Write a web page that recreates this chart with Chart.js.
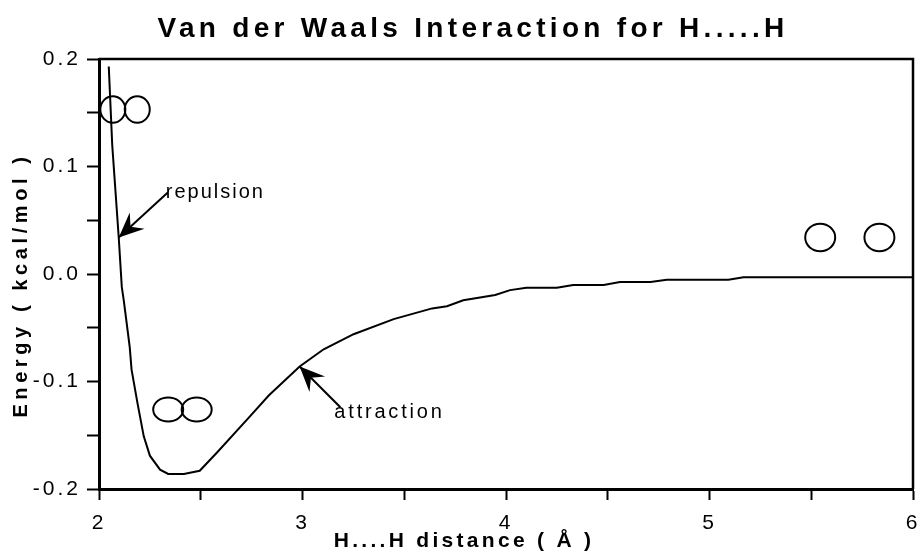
<!DOCTYPE html>
<html>
<head>
<meta charset="utf-8">
<script src="https://cdn.jsdelivr.net/npm/chart.js@4.4.0/dist/chart.umd.min.js"></script>
<style>
  html, body { margin: 0; padding: 0; background: #fff; }
  #box { width: 918px; height: 553px; }
</style>
</head>
<body>
<div id="box"><canvas id="vdwChart"></canvas></div>
<script>
// H...H distance (Å) and interaction energy (kcal/mol)
const distance = [2.048, 2.065, 2.097, 2.112, 2.122, 2.151, 2.160, 2.190, 2.220, 2.250, 2.300, 2.340,
                  2.417, 2.495, 2.580, 2.744, 2.834, 2.986, 3.104, 3.251, 3.448, 3.637, 3.710, 3.790,
                  3.947, 4.020, 4.100, 4.250, 4.330, 4.480, 4.560, 4.710, 4.790, 5.093, 5.167, 6.000];
const energy   = [0.193, 0.120, 0.034, -0.012, -0.025, -0.068, -0.089, -0.121, -0.151, -0.169, -0.182, -0.186,
                  -0.186, -0.183, -0.166, -0.132, -0.113, -0.086, -0.070, -0.056, -0.042, -0.032, -0.030, -0.0245,
                  -0.0195, -0.015, -0.0127, -0.0127, -0.0102, -0.0102, -0.0074, -0.0074, -0.0053, -0.0053, -0.0031, -0.0031];

// atom pairs drawn as circles (centre positions in data units)
const atomPairX = [[2.068, 2.188], [2.34, 2.48], [5.544, 5.835]];
const atomPairY = [0.153, -0.126, 0.034];

// arrow labels: tail and head in data units
const arrowLabels = ['repulsion', 'attraction'];
const arrowFrom = [[2.338, 0.0758], [3.186, -0.124]];
const arrowTo   = [[2.097, 0.034], [2.986, -0.086]];

const chartTitle = 'Van der Waals Interaction for H.....H';
const xTitle = 'H....H distance ( Å )';
const yTitle = 'Energy ( kcal/mol )';

const FONT = "'Liberation Sans', Arial, sans-serif";

// tick labels only on whole tenths / whole numbers, minor ticks stay blank
function tenths(v) {
    return Math.abs(Math.round(v * 10) - v * 10) < 1e-6 ? v.toFixed(1) : '';
}
function wholes(v) {
    return Math.abs(Math.round(v) - v) < 1e-6 ? String(Math.round(v)) : '';
}

function drawArrowHead(ctx, x1, y1, x2, y2) {
    const ang = Math.atan2(y2 - y1, x2 - x1);
    const len = 25, wid = 11, notch = 16;
    ctx.save();
    ctx.translate(x2, y2);
    ctx.rotate(ang);
    ctx.beginPath();
    ctx.moveTo(0, 0);
    ctx.lineTo(-len, -wid);
    ctx.lineTo(-notch, 0);
    ctx.lineTo(-len, wid);
    ctx.closePath();
    ctx.fill();
    ctx.restore();
}

const decorations = {
    id: 'decorations',
    beforeDraw(chart) {
        // the lettering is widely tracked
        chart.ctx.letterSpacing = '3px';
    },
    afterDraw(chart) {
        const { ctx, chartArea: a, scales: { x, y } } = chart;
        ctx.save();
        ctx.strokeStyle = '#000';
        ctx.fillStyle = '#000';

        // top and right frame
        ctx.lineWidth = 2.5;
        ctx.beginPath();
        ctx.moveTo(a.left, a.top);
        ctx.lineTo(a.right, a.top);
        ctx.lineTo(a.right, a.bottom);
        ctx.stroke();

        // atoms
        const sizes = [[12.5, 13.3], [15, 12], [15, 13.7]];
        ctx.lineWidth = 2;
        atomPairX.forEach((pair, i) => {
            pair.forEach(ax => {
                ctx.beginPath();
                ctx.ellipse(x.getPixelForValue(ax), y.getPixelForValue(atomPairY[i]),
                            sizes[i][0], sizes[i][1], 0, 0, Math.PI * 2);
                ctx.stroke();
            });
        });

        // arrows with their labels
        ctx.font = '20px ' + FONT;
        ctx.textBaseline = 'alphabetic';
        ctx.textAlign = 'left';
        arrowLabels.forEach((txt, i) => {
            const x1 = x.getPixelForValue(arrowFrom[i][0]), y1 = y.getPixelForValue(arrowFrom[i][1]);
            const x2 = x.getPixelForValue(arrowTo[i][0]),   y2 = y.getPixelForValue(arrowTo[i][1]);
            ctx.lineWidth = 2;
            ctx.beginPath();
            ctx.moveTo(x1, y1);
            ctx.lineTo(x2, y2);
            ctx.stroke();
            drawArrowHead(ctx, x1, y1, x2, y2);
            if (i === 0) {
                ctx.letterSpacing = '2px';
                ctx.fillText(txt, x1 - 2, y1 + 5);
            } else {
                ctx.letterSpacing = '2.8px';
                ctx.fillText(txt, x1 - 6, y1 + 11);
            }
        });

        // chart title
        ctx.textAlign = 'center';
        ctx.textBaseline = 'middle';
        ctx.font = 'bold 28px ' + FONT;
        ctx.letterSpacing = '4.3px';
        ctx.fillText(chartTitle, 473, 29);

        // x axis title
        ctx.font = 'bold 21px ' + FONT;
        ctx.letterSpacing = '3.3px';
        ctx.fillText(xTitle, 464, 541);

        // y axis title
        ctx.save();
        ctx.translate(21, 287);
        ctx.rotate(-Math.PI / 2);
        ctx.font = 'bold 20px ' + FONT;
        ctx.letterSpacing = '4.6px';
        ctx.fillText(yTitle, 2, 0);
        ctx.restore();

        ctx.restore();
        ctx.letterSpacing = '0px';
    }
};

new Chart(document.getElementById('vdwChart'), {
    type: 'scatter',
    data: {
        datasets: [{
            data: distance.map((d, i) => ({ x: d, y: energy[i] })),
            showLine: true,
            borderColor: '#000',
            borderWidth: 2,
            pointRadius: 0,
            tension: 0
        }]
    },
    options: {
        responsive: true,
        maintainAspectRatio: false,
        animation: false,
        events: [],
        layout: { padding: { top: 59, right: 5, left: 0, bottom: 0 } },
        plugins: {
            legend: { display: false },
            title: { display: false },
            tooltip: { enabled: false }
        },
        scales: {
            x: {
                type: 'linear',
                min: 2,
                max: 6,
                afterFit(scale) {
                    scale.height = 64;
                    scale.paddingLeft = 0;
                    scale.paddingRight = 0;
                },
                border: { display: true, color: '#000', width: 3 },
                grid: { drawOnChartArea: false, drawTicks: true, tickLength: 11, tickWidth: 2, tickColor: '#000' },
                ticks: {
                    stepSize: 0.5,
                    autoSkip: false,
                    maxRotation: 0,
                    padding: 11,
                    color: '#000',
                    font: { family: FONT, size: 21 },
                    callback: wholes
                }
            },
            y: {
                min: -0.2,
                max: 0.2,
                afterFit(scale) {
                    scale.width = 99;
                    scale.paddingTop = 0;
                    scale.paddingBottom = 0;
                },
                border: { display: true, color: '#000', width: 3 },
                grid: { drawOnChartArea: false, drawTicks: true, tickLength: 12, tickWidth: 2, tickColor: '#000' },
                ticks: {
                    stepSize: 0.05,
                    autoSkip: false,
                    padding: 6,
                    color: '#000',
                    font: { family: FONT, size: 21 },
                    callback: tenths
                }
            }
        }
    },
    plugins: [decorations]
});
</script>
</body>
</html>
